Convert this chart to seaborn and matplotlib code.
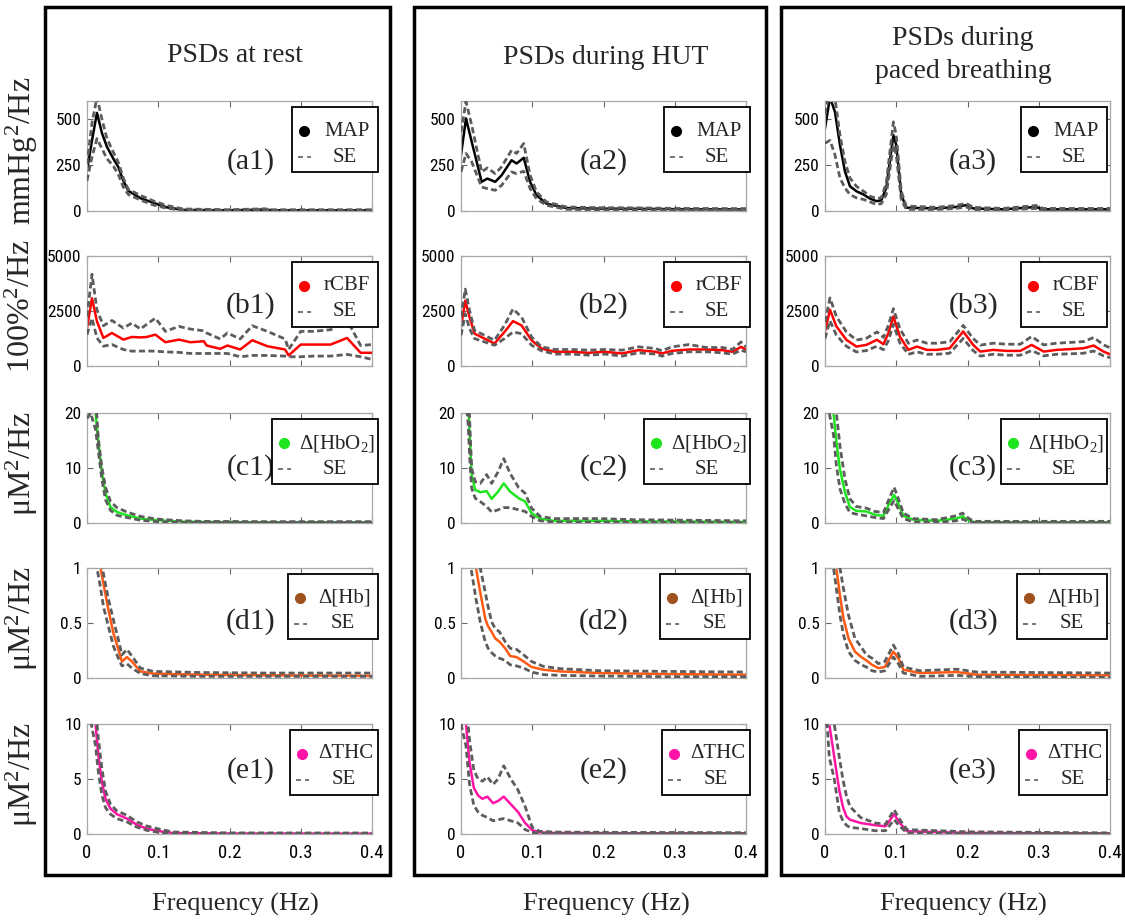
import matplotlib
matplotlib.use("Agg")
import matplotlib.pyplot as plt
from matplotlib.lines import Line2D
from matplotlib.patches import Rectangle
from matplotlib import font_manager
import seaborn as sns

# ---- data (frequency in Hz, PSD values) ----
# MAP
f_a1 = [0, 0.007, 0.014, 0.021, 0.028, 0.037, 0.044, 0.051, 0.058, 0.075, 0.093, 0.112, 0.135, 0.2, 0.25, 0.26, 0.3, 0.4]
map_rest = [220, 385, 535, 425, 350, 285, 240, 165, 110, 70, 45, 20, 6, 4, 8, 4, 4, 4]
map_rest_hi = [255, 480, 620, 500, 395, 320, 265, 180, 118, 85, 55, 30, 11, 7, 12, 7, 7, 7]
map_rest_lo = [165, 295, 395, 340, 285, 245, 200, 130, 90, 60, 33, 15, 4, 2, 4, 2, 2, 2]

f_a2 = [0, 0.007, 0.015, 0.029, 0.037, 0.048, 0.057, 0.071, 0.078, 0.088, 0.097, 0.106, 0.12, 0.148, 0.195, 0.25, 0.3, 0.4]
map_hut = [305, 505, 378, 159, 177, 159, 195, 277, 259, 290, 159, 86, 40, 16, 13, 12, 10, 9]
map_hut_hi = [432, 596, 469, 213, 235, 204, 241, 332, 314, 368, 195, 104, 49, 22, 18, 17, 14, 13]
map_hut_lo = [213, 314, 268, 131, 122, 113, 140, 213, 204, 217, 122, 67, 31, 9, 6, 6, 5, 5]

f_a3 = [0, 0.007, 0.014, 0.021, 0.028, 0.035, 0.044, 0.054, 0.063, 0.072, 0.079, 0.086, 0.096, 0.1,
        0.107, 0.114, 0.156, 0.184, 0.198, 0.208, 0.25, 0.296, 0.306, 0.4]
map_pb = [450, 620, 540, 360, 216, 135, 108, 90, 68, 54, 58, 126, 414, 360, 90, 18, 14, 22, 32, 14, 9, 22, 9, 9]
map_pb_hi = [530, 660, 612, 414, 270, 180, 135, 108, 81, 68, 72, 153, 486, 414, 108, 27, 20, 30, 42, 20, 14, 30, 14, 14]
map_pb_lo = [370, 385, 306, 180, 126, 90, 72, 63, 50, 36, 40, 90, 360, 306, 63, 9, 8, 14, 22, 8, 5, 14, 5, 5]

# rCBF
f_b1 = [0, 0.007, 0.014, 0.023, 0.035, 0.051, 0.063, 0.075, 0.084, 0.096, 0.11, 0.129, 0.145, 0.164,
        0.168, 0.187, 0.197, 0.215, 0.232, 0.253, 0.278, 0.283, 0.3, 0.318, 0.342, 0.365, 0.384, 0.4]
cbf_rest = [1725, 3075, 2025, 1275, 1500, 1200, 1320, 1300, 1320, 1425, 1080, 1200, 1080, 1125,
            930, 780, 930, 750, 1170, 900, 750, 480, 975, 975, 975, 1275, 600, 600]
cbf_rest_hi = [2250, 4170, 2550, 1830, 2070, 1725, 1950, 1680, 1900, 2175, 1575, 1800, 1680, 1600,
               1500, 1230, 1500, 1230, 1830, 1575, 1230, 750, 1575, 1575, 1650, 2100, 930, 975]
cbf_rest_lo = [1425, 2175, 1275, 900, 975, 750, 675, 680, 680, 675, 640, 620, 570, 570,
               570, 570, 570, 420, 480, 480, 450, 420, 420, 450, 450, 525, 420, 300]

f_b2 = [0, 0.006, 0.012, 0.019, 0.033, 0.047, 0.061, 0.073, 0.085, 0.099, 0.113, 0.132, 0.155, 0.179,
        0.202, 0.226, 0.249, 0.273, 0.282, 0.296, 0.32, 0.344, 0.367, 0.381, 0.393, 0.4]
cbf_hut = [1770, 2970, 2220, 1470, 1245, 1020, 1545, 2040, 1845, 1170, 795, 645, 645, 600,
           645, 570, 720, 645, 570, 690, 750, 750, 720, 645, 870, 750]
cbf_hut_hi = [2220, 3495, 2520, 1620, 1395, 1170, 1845, 2595, 2220, 1320, 870, 750, 750, 720,
              750, 720, 870, 795, 690, 870, 975, 840, 840, 750, 1095, 870]
cbf_hut_lo = [1395, 2370, 1695, 1245, 1095, 945, 1245, 1545, 1470, 945, 690, 540, 540, 495,
              540, 450, 600, 540, 450, 570, 645, 645, 600, 540, 720, 645]

f_b3 = [0, 0.007, 0.016, 0.03, 0.044, 0.058, 0.073, 0.082, 0.089, 0.096, 0.105, 0.117, 0.129, 0.143, 0.157,
        0.175, 0.194, 0.208, 0.218, 0.236, 0.255, 0.274, 0.29, 0.307, 0.325, 0.349, 0.363, 0.377, 0.391, 0.4]
cbf_pb = [1570, 2560, 1800, 1190, 884, 960, 1190, 990, 1494, 2255, 1341, 732, 884, 732, 732,
          808, 1570, 960, 655, 732, 686, 686, 960, 655, 732, 777, 808, 930, 655, 533]
cbf_pb_hi = [2000, 3094, 2250, 1550, 1180, 1260, 1550, 1300, 1850, 2606, 1700, 1036, 1180, 1036, 1036,
             1100, 1844, 1250, 950, 1036, 990, 990, 1341, 960, 1036, 1080, 1110, 1295, 960, 830]
cbf_pb_lo = [1250, 2057, 1400, 900, 640, 700, 900, 740, 1150, 1900, 1050, 533, 640, 533, 533,
             580, 1250, 700, 450, 533, 490, 490, 700, 460, 533, 560, 580, 680, 460, 380]

# HbO2
f_c1 = [0, 0.005, 0.012, 0.016, 0.021, 0.026, 0.033, 0.042, 0.056, 0.075, 0.098, 0.135, 0.16, 0.25, 0.4]
hbo_rest = [24, 26, 20, 14.6, 9.1, 5.4, 2.9, 2.0, 1.4, 0.8, 0.5, 0.25, 0.2, 0.12, 0.1]
hbo_rest_hi = [28, 30, 23, 15.2, 10, 6.5, 3.9, 2.8, 2.0, 1.2, 0.7, 0.4, 0.3, 0.25, 0.25]
hbo_rest_lo = [19, 20, 17, 13, 7.8, 4.2, 2.3, 1.4, 1.0, 0.5, 0.25, 0.1, 0.08, 0.05, 0.05]

f_c2 = [0, 0.005, 0.01, 0.013, 0.015, 0.02, 0.027, 0.036, 0.043, 0.052, 0.06, 0.069, 0.081, 0.09,
        0.099, 0.111, 0.13, 0.195, 0.242, 0.4]
hbo_hut = [30, 30, 22, 14.1, 8.7, 6.0, 5.6, 5.8, 4.4, 5.7, 7.2, 5.7, 4.5, 3.9, 1.8, 0.8, 0.4, 0.4, 0.3, 0.2]
hbo_hut_hi = [35, 35, 26, 15.9, 9.9, 7.5, 7.2, 8.8, 7.2, 9.3, 11.7, 9.0, 6.4, 5.4, 2.7, 1.2, 0.8, 0.8, 0.6, 0.4]
hbo_hut_lo = [25, 25, 18, 9.9, 6.3, 4.5, 3.9, 3.0, 2.0, 2.4, 2.8, 2.8, 2.4, 2.1, 1.2, 0.4, 0.2, 0.15, 0.1, 0.1]

f_c3 = [0, 0.006, 0.012, 0.016, 0.021, 0.028, 0.035, 0.044, 0.058, 0.07, 0.082, 0.091, 0.097, 0.103,
        0.11, 0.124, 0.156, 0.184, 0.193, 0.203, 0.212, 0.4]
hbo_pb = [30, 26, 20, 14.7, 9.8, 5.6, 2.9, 2.2, 2.1, 1.5, 1.3, 3.8, 5.1, 3.5, 1.3, 0.6, 0.4, 0.8, 1.2, 0.4, 0.1, 0.1]
hbo_pb_hi = [35, 32, 25, 20, 14, 8, 4.4, 3.0, 2.7, 2.1, 1.9, 4.7, 6.5, 4.4, 1.8, 0.8, 0.6, 1.3, 1.8, 0.7, 0.3, 0.3]
hbo_pb_lo = [25, 20, 16, 10.4, 6.2, 3.5, 1.9, 1.6, 1.3, 1.0, 0.8, 2.8, 4.1, 2.5, 0.8, 0.2, 0.1, 0.4, 0.7, 0.2, 0.05, 0.05]

# Hb
f_d1 = [0, 0.01, 0.014, 0.019, 0.023, 0.03, 0.037, 0.044, 0.049, 0.056, 0.063, 0.075, 0.093, 0.159, 0.25, 0.4]
hb_rest = [1.6, 1.3, 1.15, 1.0, 0.86, 0.62, 0.41, 0.26, 0.15, 0.19, 0.15, 0.06, 0.04, 0.03, 0.025, 0.02]
hb_rest_hi = [1.9, 1.5, 1.3, 1.12, 0.95, 0.72, 0.53, 0.35, 0.21, 0.26, 0.2, 0.09, 0.06, 0.05, 0.045, 0.045]
hb_rest_lo = [1.3, 1.1, 1.0, 0.82, 0.65, 0.47, 0.29, 0.18, 0.11, 0.13, 0.09, 0.04, 0.02, 0.015, 0.015, 0.015]

f_d2 = [0, 0.01, 0.014, 0.021, 0.027, 0.034, 0.038, 0.043, 0.048, 0.054, 0.062, 0.069, 0.078, 0.088,
        0.099, 0.116, 0.139, 0.195, 0.289, 0.4]
hb_hut = [1.8, 1.3, 1.15, 1.0, 0.78, 0.54, 0.47, 0.42, 0.36, 0.33, 0.27, 0.2, 0.19, 0.15,
          0.1, 0.075, 0.06, 0.045, 0.036, 0.03]
hb_hut_hi = [2.2, 1.6, 1.4, 1.2, 1.0, 0.78, 0.65, 0.51, 0.45, 0.42, 0.33, 0.27, 0.26, 0.21,
             0.15, 0.105, 0.085, 0.066, 0.06, 0.054]
hb_hut_lo = [1.4, 1.1, 1.0, 0.72, 0.51, 0.33, 0.27, 0.23, 0.2, 0.18, 0.16, 0.12, 0.11, 0.09,
             0.054, 0.03, 0.024, 0.018, 0.012, 0.012]

f_d3 = [0, 0.008, 0.012, 0.016, 0.021, 0.026, 0.033, 0.042, 0.051, 0.058, 0.066, 0.075, 0.084, 0.096,
        0.103, 0.11, 0.133, 0.185, 0.213, 0.4]
hb_pb = [1.8, 1.3, 1.15, 1.0, 0.75, 0.54, 0.36, 0.24, 0.19, 0.16, 0.12, 0.09, 0.1, 0.24,
         0.18, 0.075, 0.045, 0.054, 0.03, 0.024]
hb_pb_hi = [2.2, 1.6, 1.35, 1.15, 1.0, 0.81, 0.57, 0.36, 0.28, 0.21, 0.18, 0.13, 0.15, 0.3,
            0.22, 0.1, 0.066, 0.08, 0.054, 0.045]
hb_pb_lo = [1.5, 1.1, 1.0, 0.81, 0.57, 0.39, 0.24, 0.16, 0.12, 0.1, 0.066, 0.054, 0.066, 0.19,
            0.13, 0.045, 0.015, 0.024, 0.012, 0.006]

# THC
f_e1 = [0, 0.006, 0.012, 0.016, 0.021, 0.026, 0.033, 0.042, 0.056, 0.07, 0.084, 0.103, 0.121, 0.2, 0.4]
thc_rest = [13, 12, 10, 7.1, 4.7, 3.2, 2.3, 1.8, 1.4, 0.84, 0.48, 0.24, 0.09, 0.04, 0.03]
thc_rest_hi = [15, 14, 11.5, 8.6, 5.9, 3.9, 2.7, 2.1, 1.7, 1.1, 0.72, 0.42, 0.18, 0.1, 0.09]
thc_rest_lo = [11, 10, 8, 5.6, 3.5, 2.4, 1.8, 1.4, 1.1, 0.63, 0.33, 0.12, 0.03, 0.01, 0.0]

f_e2 = [0, 0.007, 0.012, 0.018, 0.024, 0.03, 0.037, 0.045, 0.052, 0.06, 0.07, 0.08, 0.09, 0.1, 0.11, 0.13, 0.2, 0.4]
thc_hut = [12, 10, 6.5, 4.2, 3.5, 3.2, 3.4, 2.8, 3.0, 3.4, 2.7, 2.0, 1.0, 0.35, 0.15, 0.1, 0.08, 0.06]
thc_hut_hi = [14, 12, 8.5, 5.8, 5.0, 4.8, 5.2, 4.5, 5.0, 6.2, 5.0, 4.0, 2.5, 0.6, 0.25, 0.18, 0.15, 0.12]
thc_hut_lo = [10, 8, 4.5, 2.6, 2.0, 1.7, 1.5, 1.2, 1.3, 1.4, 1.2, 1.0, 0.4, 0.15, 0.05, 0.03, 0.02, 0.02]

f_e3 = [0, 0.003, 0.006, 0.013, 0.02, 0.025, 0.03, 0.035, 0.05, 0.07, 0.085, 0.097, 0.105, 0.115, 0.2, 0.4]
thc_pb = [12, 11, 10, 7, 4, 2.5, 1.6, 1.3, 1.0, 0.8, 0.7, 1.8, 1.0, 0.25, 0.1, 0.05]
thc_pb_hi = [15, 14, 13, 10, 7, 5, 3.5, 2.5, 1.5, 1.0, 0.9, 2.2, 1.3, 0.4, 0.2, 0.1]
thc_pb_lo = [10, 10, 7, 5, 2, 1.2, 0.8, 0.6, 0.5, 0.3, 0.3, 1.3, 0.7, 0.1, 0.03, 0.02]

col_titles = ["PSDs at rest", "PSDs during HUT", "PSDs during\npaced breathing"]
row_names = ["MAP", "rCBF", "Δ[HbO$_2$]", "Δ[Hb]", "ΔTHC"]
row_units = ["mmHg$^2$/Hz", "100%$^2$/Hz", "μM$^2$/Hz", "μM$^2$/Hz", "μM$^2$/Hz"]
row_letters = ["a", "b", "c", "d", "e"]
row_ylim = [600, 5000, 20, 1, 10]
row_yticks = [[0, 250, 500], [0, 2500, 5000], [0, 10, 20], [0, 0.5, 1], [0, 5, 10]]
row_yticklabels = [["0", "250", "500"], ["0", "2500", "5000"], ["0", "10", "20"],
                   ["0", "0.5", "1"], ["0", "5", "10"]]
x_ticks = [0, 0.1, 0.2, 0.3, 0.4]
x_ticklabels = ["0", "0.1", "0.2", "0.3", "0.4"]
line_colors = ["black", "#ff0000", "#1ee61e", "#ff5a14", "#ff14a5"]
dot_colors = ["black", "#ff0000", "#1ee61e", "#a0521e", "#ff14a5"]

panels = [
    [(f_a1, map_rest, map_rest_lo, map_rest_hi), (f_a2, map_hut, map_hut_lo, map_hut_hi), (f_a3, map_pb, map_pb_lo, map_pb_hi)],
    [(f_b1, cbf_rest, cbf_rest_lo, cbf_rest_hi), (f_b2, cbf_hut, cbf_hut_lo, cbf_hut_hi), (f_b3, cbf_pb, cbf_pb_lo, cbf_pb_hi)],
    [(f_c1, hbo_rest, hbo_rest_lo, hbo_rest_hi), (f_c2, hbo_hut, hbo_hut_lo, hbo_hut_hi), (f_c3, hbo_pb, hbo_pb_lo, hbo_pb_hi)],
    [(f_d1, hb_rest, hb_rest_lo, hb_rest_hi), (f_d2, hb_hut, hb_hut_lo, hb_hut_hi), (f_d3, hb_pb, hb_pb_lo, hb_pb_hi)],
    [(f_e1, thc_rest, thc_rest_lo, thc_rest_hi), (f_e2, thc_hut, thc_hut_lo, thc_hut_hi), (f_e3, thc_pb, thc_pb_lo, thc_pb_hi)],
]

# ---- style ----
sns.set_theme(style="white")
plt.rcParams["font.family"] = ["Liberation Serif", "DejaVu Serif"]
plt.rcParams["mathtext.fontset"] = "custom"
plt.rcParams["mathtext.rm"] = "Liberation Serif"
plt.rcParams["mathtext.it"] = "Liberation Serif:italic"
plt.rcParams["mathtext.default"] = "rm"

installed = {f.name for f in font_manager.fontManager.ttflist}
tick_font = "Liberation Sans"
for cand in ["Liberation Sans Narrow", "Roboto Condensed", "Open Sans Condensed"]:
    if cand in installed:
        tick_font = cand
        break

W, H = 1125, 923
fig = plt.figure(figsize=(W / 100, H / 100), dpi=100)

col_x = [87, 461, 825]
row_top = [101, 256, 413, 568, 724]
ax_w, ax_h = 285, 110
se_color = "#5c5c5c"
se_dash = (0, (2.2, 1.2))

# panel label / legend placement (axes fraction, px)
label_x = [0.575, 0.5, 0.52]
label_y = [0.45, 0.55, 0.5, 0.51, 0.58]
leg_right = [1.021, 1.014, 0.989]
leg_w = [86, 86, 106, 90, 88]
leg_h = 65
leg_top_gap = 6

for r in range(5):
    for c in range(3):
        f, mean, lo, hi = panels[r][c]
        ax = fig.add_axes([col_x[c] / W, 1 - (row_top[r] + ax_h) / H, ax_w / W, ax_h / H])
        sns.lineplot(x=f, y=mean, ax=ax, color=line_colors[r], linewidth=1.8, zorder=2)
        sns.lineplot(x=f, y=hi, ax=ax, color=se_color, linewidth=2.0, linestyle=se_dash, zorder=3)
        sns.lineplot(x=f, y=lo, ax=ax, color=se_color, linewidth=2.0, linestyle=se_dash, zorder=3)
        ax.set_xlim(0, 0.4)
        ax.set_ylim(0, row_ylim[r])
        ax.set_xticks(x_ticks)
        ax.set_yticks(row_yticks[r])
        ax.set_yticklabels(row_yticklabels[r])
        if r == 4:
            ax.set_xticklabels(x_ticklabels)
        else:
            ax.set_xticklabels([])
        ax.set_xlabel("")
        ax.set_ylabel("")
        ax.tick_params(direction="in", length=4, width=0.8, color="#666666", top=True, right=True,
                       bottom=True, left=True, labelcolor="black")
        ax.tick_params(axis="x", pad=7, labelsize=13.5)
        ax.tick_params(axis="y", pad=4, labelsize=12.5)
        for lab in ax.get_xticklabels() + ax.get_yticklabels():
            lab.set_family(tick_font)
        for sp in ax.spines.values():
            sp.set_color("#a8a8a8")
            sp.set_linewidth(0.9)
        ax.text(label_x[c], label_y[r], f"({row_letters[r]}{c + 1})", transform=ax.transAxes,
                ha="center", va="center", fontsize=21.5)

        # MATLAB-style legend box, drawn by hand so the labels sit centred
        x1 = leg_right[c]
        x0 = x1 - leg_w[r] / ax_w
        y1 = 1 - leg_top_gap / ax_h
        y0 = y1 - leg_h / ax_h
        ax.add_patch(Rectangle((x0, y0), x1 - x0, y1 - y0, transform=ax.transAxes, facecolor="white",
                               edgecolor="black", linewidth=1.3, clip_on=False, zorder=6))
        row1 = y1 - 24 / ax_h
        row2 = y1 - 50 / ax_h
        xh = x0 + 12 / ax_w
        xt = x0 + (leg_w[r] + 24) / 2 / ax_w
        ax.add_line(Line2D([xh], [row1], marker="o", linestyle="none", color=dot_colors[r],
                           markersize=7, transform=ax.transAxes, clip_on=False, zorder=7))
        ax.add_line(Line2D([x0 + 6 / ax_w, x0 + 19 / ax_w], [row2, row2], color=se_color, linewidth=1.2,
                           linestyle=(0, (3, 2.5)), transform=ax.transAxes, clip_on=False, zorder=7))
        ax.text(xt, row1, row_names[r], transform=ax.transAxes, ha="center", va="center",
                fontsize=15, zorder=7)
        ax.text(xt - 2 / ax_w, row2, "SE", transform=ax.transAxes, ha="center", va="center",
                fontsize=15, zorder=7)

# column boxes
boxes = [(45, 7, 390, 875), (414, 7, 766, 875), (781, 7, 1123, 875)]
for x0, y0, x1, y1 in boxes:
    fig.patches.append(Rectangle((x0 / W, 1 - y1 / H), (x1 - x0) / W, (y1 - y0) / H,
                                 transform=fig.transFigure, fill=False, edgecolor="black", linewidth=2.5))

# titles
fig.text(235 / W, 1 - 56 / H, col_titles[0], ha="center", va="center", fontsize=20)
fig.text(606 / W, 1 - 58 / H, col_titles[1], ha="center", va="center", fontsize=20)
fig.text(963 / W, 1 - 55 / H, col_titles[2], ha="center", va="center", fontsize=20, linespacing=1.45)

# row y labels
for r in range(5):
    yc = row_top[r] + ax_h / 2 - 5
    fig.text(22 / W, 1 - yc / H, row_units[r], rotation=90, ha="center", va="center", fontsize=23)

# x labels
for xc in [235, 606, 963]:
    fig.text(xc / W, 1 - 904 / H, "Frequency (Hz)", ha="center", va="center", fontsize=19)

fig.savefig("out.png", dpi=100)
